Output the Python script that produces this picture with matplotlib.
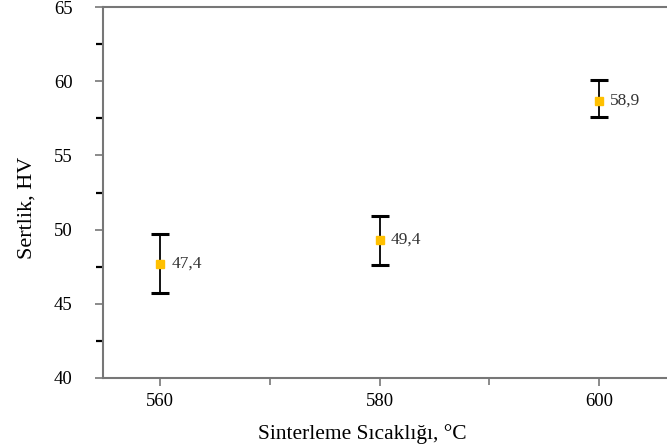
import numpy as np
import matplotlib.pyplot as plt
from matplotlib.ticker import MultipleLocator

# ---------------------------------------------------------------- data
temps   = [560, 580, 600]
hv_mean = [47.7, 49.3, 58.7]
hv_low  = [45.75, 47.6, 57.6]
hv_high = [49.7, 50.9, 60.1]
labels  = ["47,4", "49,4", "58,9"]

plt.rcParams["font.family"] = ["Liberation Serif", "DejaVu Serif"]

yerr = [np.array(hv_mean) - np.array(hv_low), np.array(hv_high) - np.array(hv_mean)]

fig = plt.figure(figsize=(6.67, 4.47), dpi=100)
ax = fig.add_axes([0.1544, 0.1544, 0.8456, 0.8299])

ax.errorbar(temps, hv_mean, yerr=yerr, fmt="none", ecolor="black",
            elinewidth=1.3, capsize=6.5, capthick=2.2, zorder=2)
ax.plot(temps, hv_mean, ls="none", marker="s", ms=5.5, color="#FFC000", zorder=3)

for x, y, t in zip(temps, hv_mean, labels):
    ax.annotate(t, (x, y), xytext=(8, 0), textcoords="offset points",
                va="center", ha="left", fontsize=12.5, color="#333333")

ax.set_xlim(554.8, 606.2)
ax.set_ylim(40, 65)
ax.xaxis.set_major_locator(MultipleLocator(20))
ax.xaxis.set_minor_locator(MultipleLocator(10))
ax.yaxis.set_major_locator(MultipleLocator(5))
ax.yaxis.set_minor_locator(MultipleLocator(2.5))

ax.spines["right"].set_visible(False)
for s in ["left", "bottom", "top"]:
    ax.spines[s].set_color("#777777")
    ax.spines[s].set_linewidth(1.5)

ax.tick_params(which="major", direction="out", length=6, width=1.2,
               color="#777777", labelsize=13.5)
ax.tick_params(axis="x", which="major", pad=5)
ax.tick_params(axis="y", which="major", pad=16)
ax.tick_params(axis="y", which="minor", direction="out", length=5, width=1.6,
               color="black")
ax.tick_params(axis="x", which="minor", direction="out", length=5, width=1.2,
               color="#777777")

ax.set_xlabel("Sinterleme Sıcaklığı, °C", fontsize=15.5, labelpad=9)
ax.xaxis.set_label_coords(0.459, -0.125)
ax.set_ylabel("Sertlik, HV", fontsize=16)
ax.yaxis.set_label_coords(-0.118, 0.46)

fig.savefig("out.png", dpi=100)
